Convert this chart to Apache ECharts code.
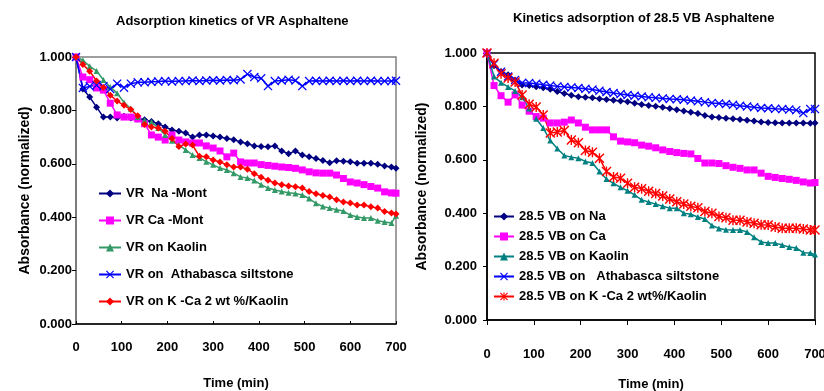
<!DOCTYPE html>
<html>
<head>
<meta charset="utf-8">
<title>Adsorption kinetics</title>
<script src="https://cdn.jsdelivr.net/npm/echarts@6/dist/echarts.min.js"></script>
<style>
  html, body { margin: 0; padding: 0; background: #fff; }
  #chart { width: 824px; height: 391px; }
</style>
</head>
<body>
<div id="chart"></div>
<script>
// sampling times (min), shared by both panels
var times = [0, 15, 30, 45, 60, 75, 90, 105, 120, 135, 150, 165, 180, 195, 210, 225, 240, 255, 270, 285,
  300, 315, 330, 345, 360, 375, 390, 405, 420, 435, 450, 465, 480, 495, 510, 525, 540, 555, 570, 585,
  600, 615, 630, 645, 660, 675, 690, 700]
var yTicks = [0, 0.2, 0.4, 0.6, 0.8, 1.0]

// left panel: VR asphaltene
var vrNaMont = [1.000, 0.880, 0.850, 0.812, 0.775, 0.775, 0.772, 0.778, 0.772, 0.768, 0.765, 0.758, 0.750, 0.738, 0.727, 0.722, 0.715, 0.700, 0.708, 0.708,
  0.704, 0.700, 0.695, 0.690, 0.682, 0.675, 0.667, 0.665, 0.664, 0.667, 0.648, 0.638, 0.648, 0.633, 0.626, 0.620, 0.612, 0.604, 0.611, 0.610,
  0.608, 0.602, 0.602, 0.602, 0.598, 0.592, 0.588, 0.583]
var vrCaMont = [1.000, 0.925, 0.915, 0.884, 0.876, 0.827, 0.783, 0.775, 0.775, 0.768, 0.750, 0.708, 0.700, 0.689, 0.708, 0.689, 0.682, 0.678, 0.678, 0.667,
  0.659, 0.648, 0.626, 0.640, 0.607, 0.603, 0.603, 0.597, 0.594, 0.591, 0.588, 0.586, 0.583, 0.577, 0.570, 0.566, 0.565, 0.565, 0.558, 0.545,
  0.532, 0.528, 0.522, 0.515, 0.509, 0.495, 0.491, 0.490]
var vrKaolin = [1.000, 0.988, 0.965, 0.948, 0.914, 0.888, 0.864, 0.830, 0.806, 0.775, 0.763, 0.757, 0.734, 0.708, 0.686, 0.670, 0.652, 0.633, 0.622, 0.608,
  0.596, 0.584, 0.577, 0.565, 0.551, 0.547, 0.537, 0.522, 0.509, 0.502, 0.496, 0.492, 0.489, 0.483, 0.470, 0.452, 0.440, 0.434, 0.428, 0.423,
  0.408, 0.401, 0.397, 0.397, 0.387, 0.382, 0.378, 0.405]
var vrAthabasca = [1.000, 0.884, 0.890, 0.895, 0.890, 0.880, 0.900, 0.885, 0.900, 0.905, 0.905, 0.907, 0.908, 0.910, 0.908, 0.910, 0.910, 0.912, 0.910, 0.912,
  0.913, 0.912, 0.914, 0.913, 0.916, 0.936, 0.925, 0.920, 0.891, 0.910, 0.912, 0.915, 0.912, 0.891, 0.910, 0.911, 0.910, 0.911, 0.910, 0.911,
  0.910, 0.911, 0.910, 0.911, 0.910, 0.910, 0.910, 0.911]
var vrKCaKaolin = [1.000, 0.972, 0.947, 0.910, 0.886, 0.857, 0.835, 0.819, 0.803, 0.780, 0.747, 0.738, 0.734, 0.722, 0.695, 0.665, 0.674, 0.670, 0.628, 0.626,
  0.614, 0.607, 0.596, 0.588, 0.588, 0.580, 0.563, 0.550, 0.538, 0.528, 0.522, 0.517, 0.514, 0.509, 0.496, 0.488, 0.481, 0.476, 0.465, 0.457,
  0.453, 0.446, 0.446, 0.439, 0.434, 0.421, 0.416, 0.412]

// right panel: 28.5 VB asphaltene
var vbNa = [1.000, 0.952, 0.931, 0.919, 0.899, 0.880, 0.878, 0.874, 0.870, 0.864, 0.856, 0.848, 0.842, 0.836, 0.834, 0.832, 0.829, 0.826, 0.823, 0.820,
  0.817, 0.812, 0.807, 0.803, 0.801, 0.797, 0.792, 0.787, 0.783, 0.778, 0.773, 0.766, 0.760, 0.758, 0.756, 0.754, 0.751, 0.748, 0.745, 0.742,
  0.740, 0.739, 0.738, 0.738, 0.738, 0.738, 0.737, 0.738]
var vbCa = [1.000, 0.878, 0.840, 0.816, 0.843, 0.805, 0.782, 0.762, 0.756, 0.738, 0.738, 0.741, 0.749, 0.738, 0.722, 0.712, 0.712, 0.712, 0.686, 0.670,
  0.667, 0.664, 0.655, 0.651, 0.645, 0.637, 0.631, 0.627, 0.624, 0.622, 0.605, 0.588, 0.588, 0.586, 0.578, 0.572, 0.568, 0.562, 0.562, 0.550,
  0.538, 0.534, 0.530, 0.527, 0.523, 0.517, 0.513, 0.515]
var vbKaolin = [1.000, 0.912, 0.889, 0.873, 0.858, 0.834, 0.792, 0.754, 0.719, 0.672, 0.642, 0.616, 0.610, 0.606, 0.594, 0.588, 0.556, 0.528, 0.512, 0.497,
  0.484, 0.469, 0.450, 0.442, 0.434, 0.426, 0.419, 0.419, 0.400, 0.396, 0.386, 0.378, 0.354, 0.343, 0.338, 0.337, 0.337, 0.330, 0.310, 0.292,
  0.288, 0.288, 0.281, 0.273, 0.270, 0.252, 0.251, 0.245]
var vbAthabasca = [1.000, 0.958, 0.930, 0.912, 0.899, 0.888, 0.888, 0.885, 0.881, 0.878, 0.875, 0.873, 0.871, 0.869, 0.866, 0.863, 0.859, 0.854, 0.850, 0.846,
  0.843, 0.840, 0.837, 0.834, 0.832, 0.830, 0.828, 0.827, 0.825, 0.822, 0.819, 0.816, 0.813, 0.811, 0.809, 0.806, 0.802, 0.800, 0.797, 0.794,
  0.793, 0.791, 0.790, 0.788, 0.786, 0.775, 0.790, 0.790]
var vbKCaKaolin = [1.000, 0.962, 0.922, 0.906, 0.891, 0.843, 0.808, 0.798, 0.768, 0.700, 0.704, 0.710, 0.674, 0.664, 0.635, 0.628, 0.606, 0.556, 0.536, 0.531,
  0.512, 0.497, 0.492, 0.482, 0.474, 0.464, 0.453, 0.443, 0.434, 0.426, 0.420, 0.406, 0.400, 0.388, 0.383, 0.374, 0.374, 0.367, 0.362, 0.357,
  0.356, 0.348, 0.344, 0.344, 0.344, 0.341, 0.337, 0.337]

var leftNames = ['VR  Na -Mont', 'VR Ca -Mont', 'VR on Kaolin', 'VR on  Athabasca siltstone', 'VR on K -Ca 2 wt %/Kaolin']
var rightNames = ['28.5 VB on Na', '28.5 VB on Ca', '28.5 VB on Kaolin', '28.5 VB on   Athabasca siltstone', '28.5 VB on K -Ca 2 wt%/Kaolin']

// marker shapes
var crossSym = 'path://M0,1L1,0L5,4L9,0L10,1L6,5L10,9L9,10L5,6L1,10L0,9L4,5Z'
var starSym = 'path://M0,1L1,0L5,4L9,0L10,1L6,5L10,9L9,10L5,6L1,10L0,9L4,5Z M4.3,0L5.7,0L5.7,10L4.3,10Z'

function pairs (vals) {
  return times.map(function (t, i) { return [t, vals[i]] })
}

function line (name, vals, idx, color, symbol, size) {
  return {
    name: name,
    type: 'line',
    xAxisIndex: idx,
    yAxisIndex: idx,
    data: pairs(vals),
    symbol: symbol,
    symbolSize: size,
    showAllSymbol: true,
    animation: false,
    lineStyle: { color: color, width: 1.5 },
    itemStyle: { color: color }
  }
}

var font = 'Liberation Sans'
var txt = { color: '#000', fontFamily: font, fontWeight: 'bold', fontSize: 13 }
var nameTxt = { color: '#000', fontFamily: font, fontWeight: 'bold', fontSize: 13 }
var yNameTxt = { color: '#000', fontFamily: font, fontWeight: 'bold', fontSize: 14 }

function xAxis (idx, tickInside, labelMargin, nameGap) {
  return {
    type: 'value',
    gridIndex: idx,
    min: 0,
    max: 700,
    interval: 100,
    name: 'Time (min)',
    nameLocation: 'middle',
    nameGap: nameGap,
    nameTextStyle: nameTxt,
    axisLine: { lineStyle: { color: '#000', width: 1.5 } },
    axisTick: { inside: tickInside, length: tickInside ? 3 : 5, lineStyle: { color: '#000' } },
    axisLabel: Object.assign({ margin: labelMargin }, txt),
    splitLine: { show: false }
  }
}

function yAxis (idx, lineColor, labelMargin, nameGap) {
  return {
    type: 'value',
    gridIndex: idx,
    min: 0,
    max: 1,
    interval: 0.2,
    name: 'Absorbance (normalized)',
    nameLocation: 'middle',
    nameGap: nameGap,
    nameTextStyle: yNameTxt,
    axisLine: { show: true, lineStyle: { color: lineColor, width: 1.5 } },
    axisTick: { show: true, length: 4, lineStyle: { color: '#000' } },
    axisLabel: Object.assign({ margin: labelMargin, formatter: function (v) { return v.toFixed(3) } }, txt),
    splitLine: { show: false }
  }
}

var chart = echarts.init(document.getElementById('chart'))
var option = {
  backgroundColor: '#fff',
  title: [
    { text: 'Adsorption kinetics of VR Asphaltene', left: 111, top: 10, textStyle: { color: '#000', fontFamily: font, fontWeight: 'bold', fontSize: 13 } },
    { text: 'Kinetics adsorption of 28.5 VB Asphaltene', left: 508, top: 7, textStyle: { color: '#000', fontFamily: font, fontWeight: 'bold', fontSize: 13 } }
  ],
  grid: [
    { left: 76, right: 428, top: 57, bottom: 67, outerBoundsMode: 'none', show: true, borderColor: '#808080', borderWidth: 1.5, backgroundColor: 'transparent' },
    { left: 487, right: 9, top: 53, bottom: 71, outerBoundsMode: 'none', show: true, borderColor: '#000', borderWidth: 1.5, backgroundColor: 'transparent' }
  ],
  legend: [
    {
      data: leftNames,
      orient: 'vertical',
      left: 93,
      top: 182,
      itemWidth: 22,
      itemHeight: 10,
      itemGap: 14,
      textStyle: { color: '#000', fontFamily: font, fontWeight: 'bold', fontSize: 13 }
    },
    {
      data: rightNames,
      orient: 'vertical',
      left: 488,
      top: 205,
      itemWidth: 20,
      itemHeight: 10,
      itemGap: 7,
      textStyle: { color: '#000', fontFamily: font, fontWeight: 'bold', fontSize: 13 }
    }
  ],
  xAxis: [xAxis(0, true, 17, 53), xAxis(1, false, 28, 58)],
  yAxis: [yAxis(0, '#707070', 4, 44), yAxis(1, '#000', 10, 58)],
  series: [
    line(leftNames[0], vrNaMont, 0, '#000080', 'diamond', 7),
    line(leftNames[1], vrCaMont, 0, '#FF00FF', 'rect', 7),
    line(leftNames[2], vrKaolin, 0, '#339966', 'triangle', 6),
    line(leftNames[3], vrAthabasca, 0, '#0000FF', crossSym, 9),
    line(leftNames[4], vrKCaKaolin, 0, '#FF0000', 'diamond', 7),
    line(rightNames[0], vbNa, 1, '#000080', 'diamond', 7),
    line(rightNames[1], vbCa, 1, '#FF00FF', 'rect', 7),
    line(rightNames[2], vbKaolin, 1, '#008080', 'triangle', 6),
    line(rightNames[3], vbAthabasca, 1, '#0000FF', crossSym, 9),
    line(rightNames[4], vbKCaKaolin, 1, '#FF0000', starSym, 10)
  ]
}
chart.setOption(option)
</script>
</body>
</html>
